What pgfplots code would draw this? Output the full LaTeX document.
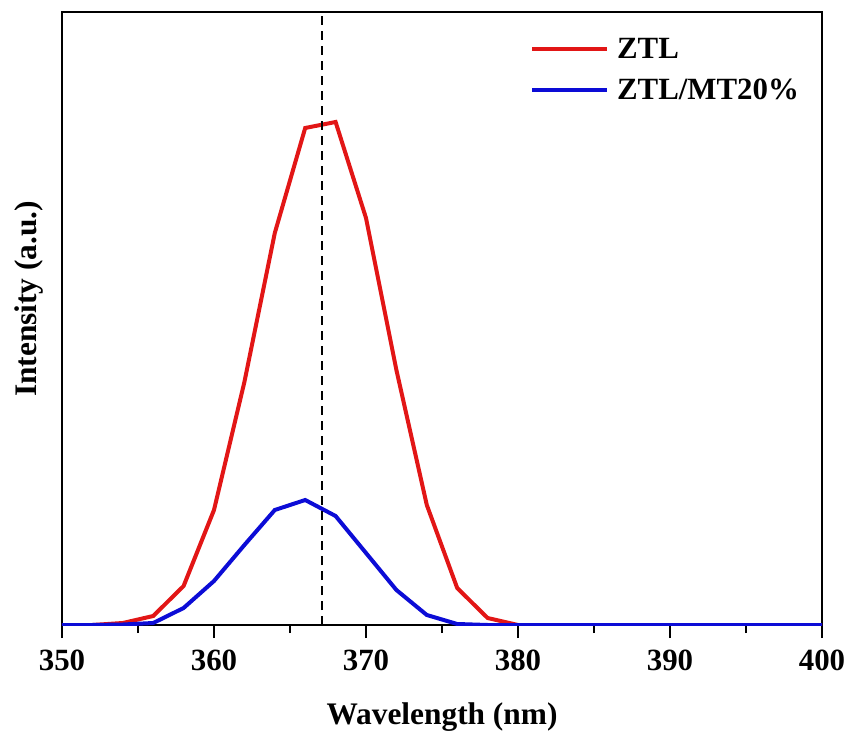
\documentclass[border=0pt]{standalone}
\usepackage{pgfplots}
\pgfplotsset{compat=1.18}
\usepackage{fontspec}
\setmainfont{Liberation Serif}
\definecolor{cred}{RGB}{226,22,22}
\definecolor{cblue}{RGB}{12,12,214}
\begin{document}
\begin{tikzpicture}
\begin{axis}[
  scale only axis,
  width=760bp, height=613bp,
  xmin=350, xmax=400, ymin=0, ymax=613,
  xtick={350,360,...,400},
  minor x tick num=1,
  ytick=\empty,
  xtick pos=bottom,
  tick align=outside,
  major tick length=13bp,
  minor tick length=8bp,
  every tick/.style={black, line width=2.4bp},
  axis line style={line width=2.6bp},
  /pgf/number format/assume math mode=true,
  /pgf/number format/1000 sep={},
  ticklabel style={font=\fontsize{31}{34}\selectfont\bfseries},
  xticklabel style={anchor=base, yshift=-32bp},
  xlabel={Wavelength (nm)},
  ylabel={Intensity (a.u.)},
  label style={font=\fontsize{31.5}{35}\selectfont\bfseries},
  xlabel style={at={(axis description cs:0.5,0)}, anchor=base, yshift=-99bp},
  ylabel style={at={(axis description cs:-0.0329,0.532)}, anchor=base, rotate=0},
  legend style={draw=none, fill=none, at={(0.613,0.964)}, anchor=north west,
    font=\fontsize{31}{34}\selectfont\bfseries, row sep=15bp,
    inner sep=2bp},
  legend cell align=left,
  legend image code/.code={\draw[#1] (0bp,0bp) -- (75bp,0bp); \path (81bp,0bp);},
]
\addplot[cred, line width=4bp] coordinates {
(350,0) (352,0) (354,2) (356,9) (358,39) (360,115) (362,243) (364,392) (366,497) (368,503) (370,407) (372,255) (374,120) (376,37) (378,7) (380,0) (382,0) (384,0) (386,0) (388,0) (390,0) (392,0) (394,0) (396,0) (398,0) (400,0)
};
\addlegendentry{ZTL}
\addplot[cblue, line width=4bp] coordinates {
(350,0) (352,0) (354,0.5) (356,2) (358,17) (360,44) (362,80) (364,115) (366,125) (368,109) (370,72) (372,35) (374,10) (376,1) (378,0) (380,0) (382,0) (384,0) (386,0) (388,0) (390,0) (392,0) (394,0) (396,0) (398,0) (400,0)
};
\addlegendentry{ZTL/MT20\%}
\addplot[black, line width=2.6bp, dash pattern=on 9bp off 6bp, forget plot] coordinates {(367.1,0) (367.1,613)};
\end{axis}
\pgfresetboundingbox
\path ([shift={(-62bp,-106bp)}]current axis.south west) rectangle ([shift={(27bp,12bp)}]current axis.north east);
\end{tikzpicture}
\end{document}
